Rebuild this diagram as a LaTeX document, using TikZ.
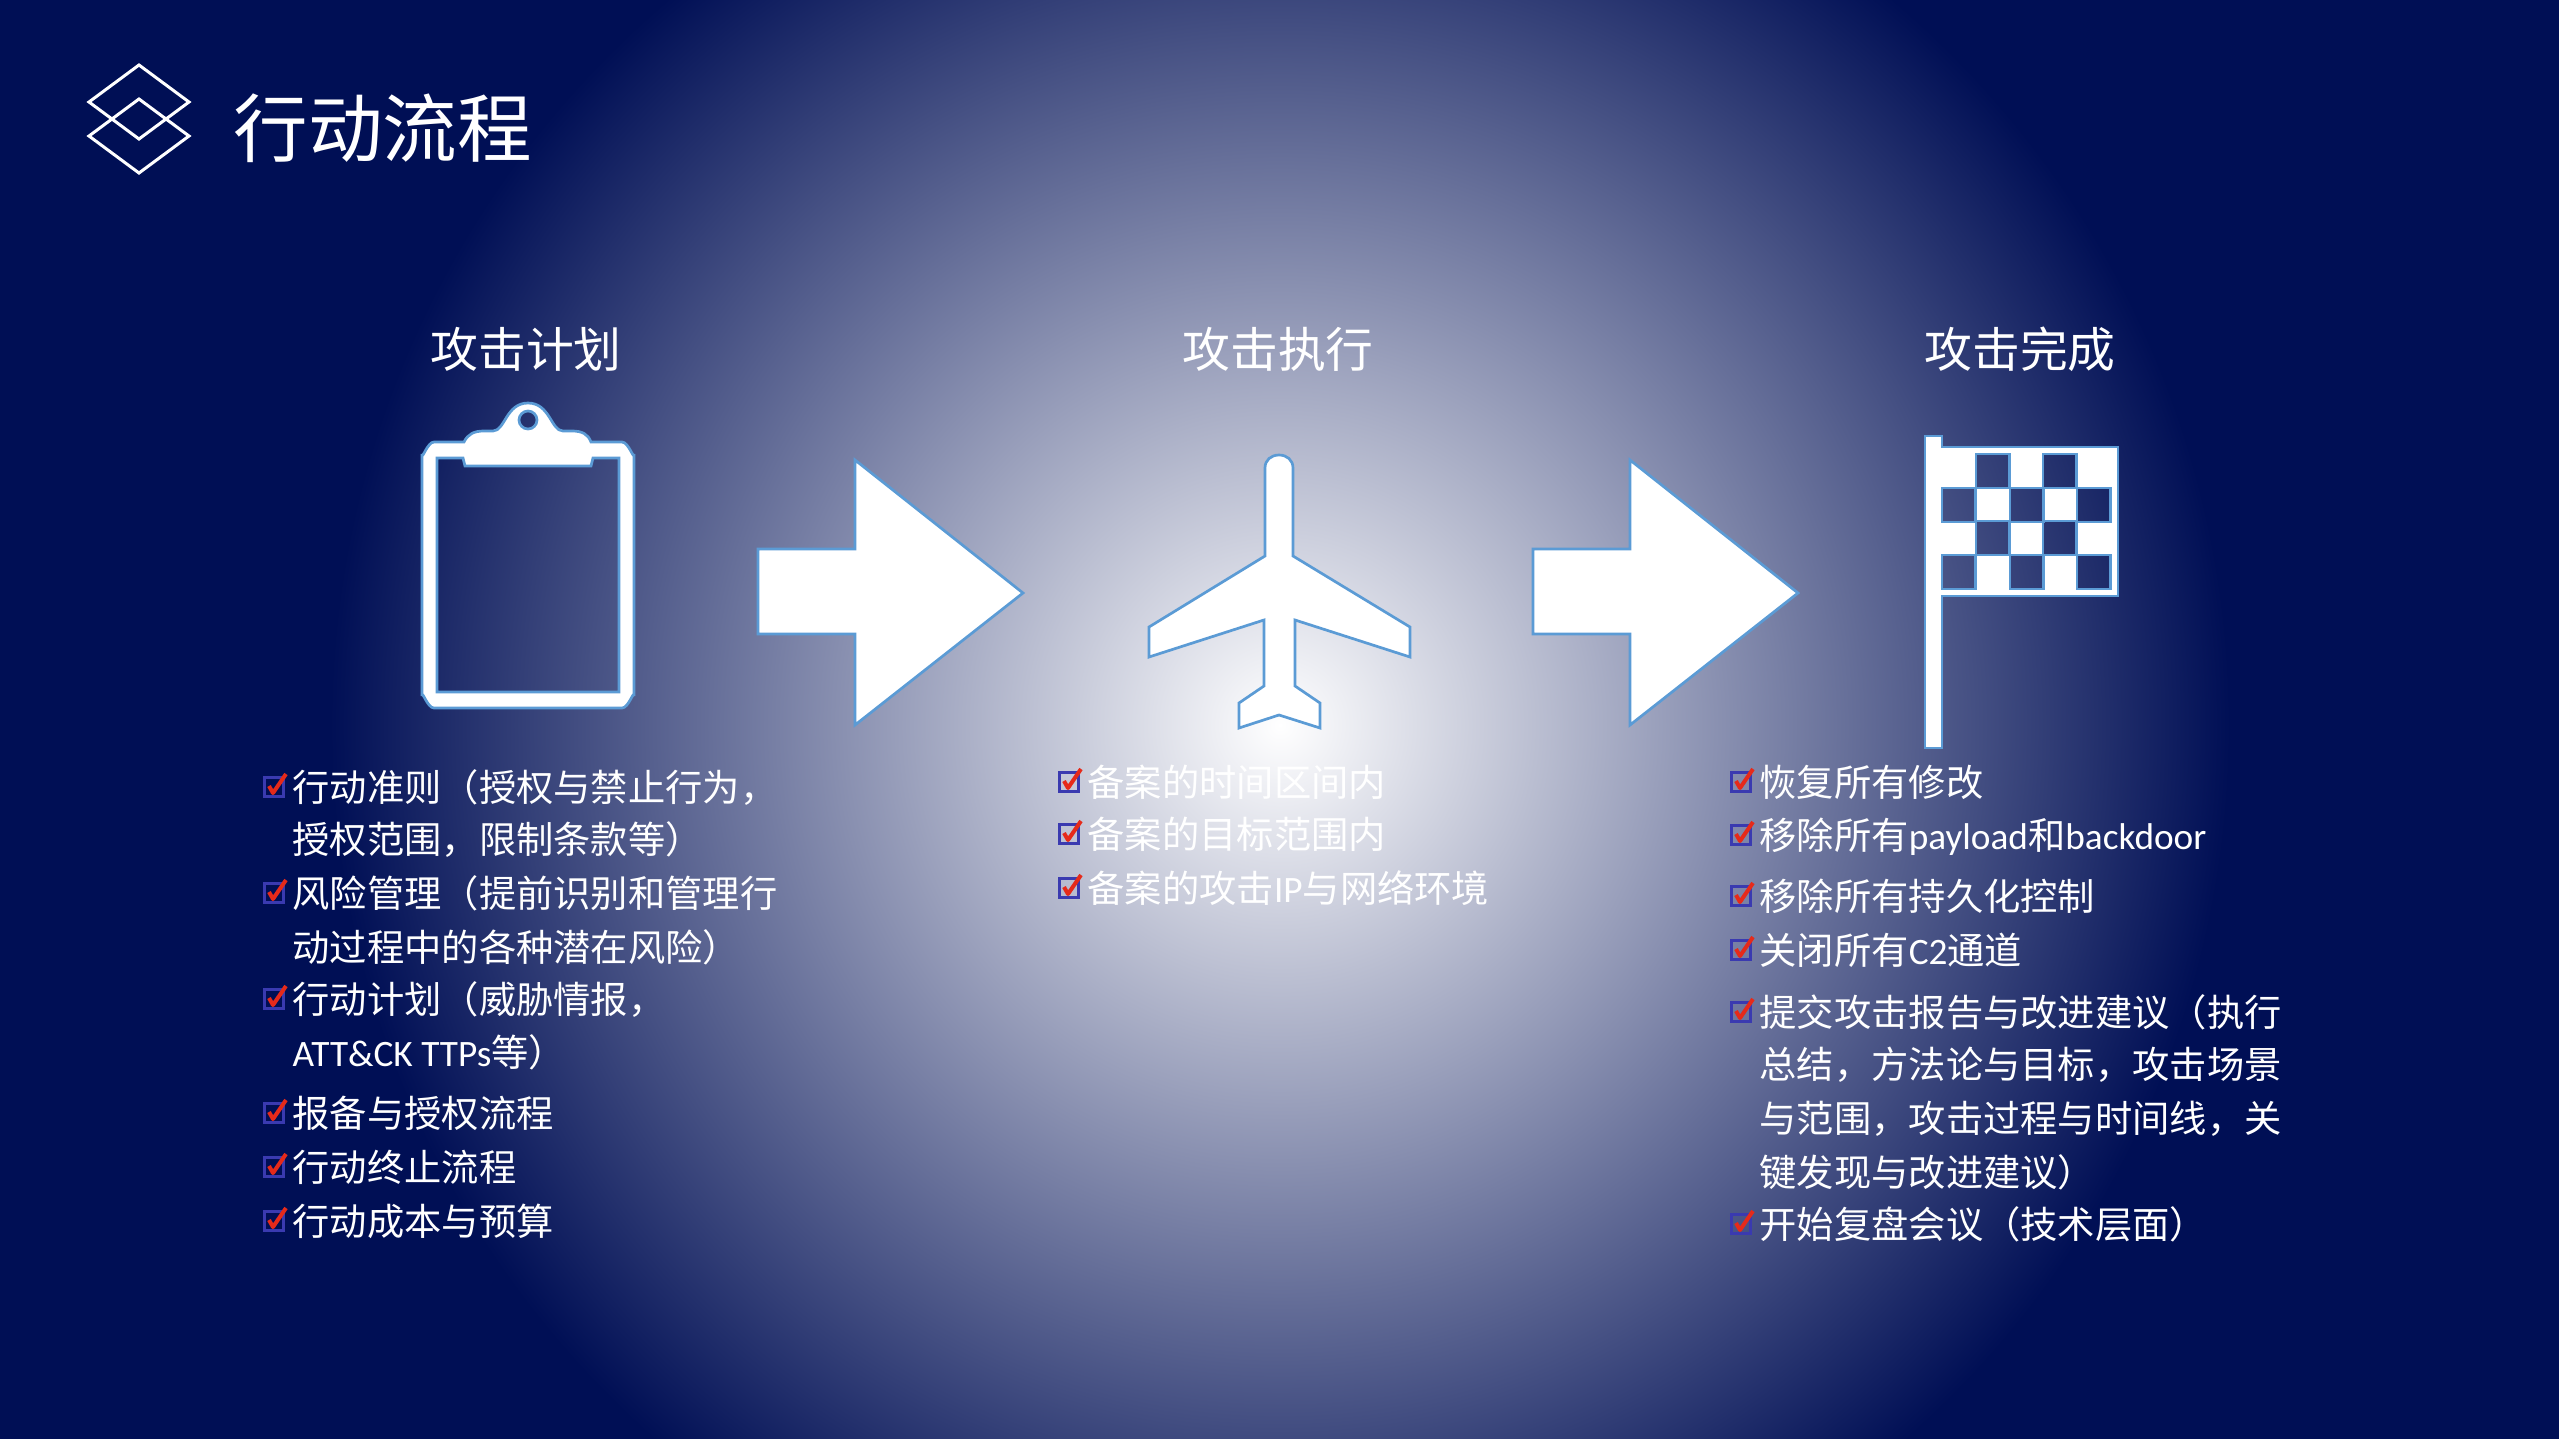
\documentclass[tikz,border=0pt]{standalone}
\usepackage{fontspec}
\setmainfont{Noto Sans CJK SC}
\newfontfamily\latfont{Carlito}
\newcommand{\lat}[1]{{\latfont #1}}
\definecolor{navybg}{HTML}{000F55}
\definecolor{iconline}{HTML}{5B9BD5}
\definecolor{boxblue}{HTML}{3A3AB0}
\definecolor{tickred}{HTML}{E62A1A}
\pgfdeclareradialshading{glowbg}{\pgfpoint{0bp}{0bp}}{color(0bp)=(white); color(25bp)=(navybg); color(50bp)=(navybg)}
\tikzset{
  titletext/.style={text=white,inner sep=0pt,anchor=base west,font=\fontsize{21.2pt}{24pt}\selectfont},
  headtext/.style={text=white,inner sep=0pt,anchor=base,font=\fontsize{13.6pt}{16pt}\selectfont},
  linetext/.style={text=white,inner sep=0pt,anchor=base west,font=\fontsize{10.6pt}{13pt}\selectfont},
  iconshape/.style={fill=white,draw=iconline,line width=0.027cm,line join=miter,even odd rule},
  tickbox/.pic={
    \draw[boxblue,line width=0.03cm] (-28,-24) rectangle (-9,-5);
    \draw[tickred,line width=0.04cm,line join=round] (-23,-15) -- (-19,-8) -- (-6,-27);
  }
}
\begin{document}
\begin{tikzpicture}[x=0.01cm,y=-0.01cm]
  \useasboundingbox (0,0) rectangle (2559,1439);
  \fill[navybg] (0,0) rectangle (2559,1439);
  \begin{scope}
    \clip (0,0) rectangle (2559,1439);
    \shade[shading=glowbg] (1280,725) circle (950);
  \end{scope}
  % title
  \draw[white,line width=0.03cm] (139,65) -- (189,102) -- (139,139) -- (89,102) -- cycle;
  \draw[white,line width=0.03cm] (139,99) -- (189,136) -- (139,173) -- (89,136) -- cycle;
  \node[titletext] (maintitle) at (233,156) {行动流程};
  % heads
  \node[headtext] (planhead) at (526,367) {攻击计划};
  \node[headtext] (runhead) at (1278,367) {攻击执行};
  \node[headtext] (donehead) at (2020,367) {攻击完成};
  % clipboard
  \draw[iconshape] (434,442) -- (464,442) .. controls (468,434) and (474,431) .. (484,431)
    -- (493,431) .. controls (505,431) and (506,403) .. (528,403)
    .. controls (550,403) and (551,431) .. (563,431) -- (572,431)
    .. controls (582,431) and (588,434) .. (591,442) -- (622,442)
    to[out=0,in=-90] (634,454) -- (634,696) to[out=90,in=0] (622,708)
    -- (434,708) to[out=180,in=90] (422,696) -- (422,454) to[out=-90,in=180] cycle
    (437,458) -- (463,458) -- (465,466) -- (591,466) -- (593,458) -- (619,458)
    -- (619,692) -- (437,692) -- cycle
    (528,420) circle (9);
  % arrows
  \foreach \dx in {0,775}
    \draw[iconshape,shift={(\dx,0)}] (758,549) -- (855,549) -- (855,460) -- (1023,593)
      -- (855,725) -- (855,634) -- (758,634) -- cycle;
  % plane
  \draw[iconshape] (1265,468) .. controls (1265,460) and (1271,455) .. (1279,455)
    .. controls (1287,455) and (1293,460) .. (1293,468) -- (1293,556) -- (1410,627)
    -- (1410,657) -- (1295,620) -- (1295,686) -- (1320,703) -- (1320,728) -- (1279,715)
    -- (1239,728) -- (1239,703) -- (1264,686) -- (1264,620) -- (1149,657) -- (1149,627)
    -- (1265,556) -- cycle;
  % flag
  \draw[iconshape] (1925,436) -- (1942,436) -- (1942,447) -- (2118,447) -- (2118,596)
    -- (1942,596) -- (1942,748) -- (1925,748) -- cycle
    foreach \cx/\cy in {1976/454,2043/454,1942/488,2010/488,2077/488,1976/521,2043/521,1942/555,2010/555,2077/555}
    {(\cx,\cy) rectangle ++(33.5,34)};
  % left list
  \foreach \ty/\txt/\chk [count=\i] in {
      787/行动准则（授权与禁止行为，/1,
      839/授权范围，限制条款等）/0,
      893/风险管理（提前识别和管理行/1,
      947/动过程中的各种潜在风险）/0,
      999/行动计划（威胁情报，/1,
      1052/\lat{ATT\&CK TTPs}等）/0,
      1113/报备与授权流程/1,
      1167/行动终止流程/1,
      1221/行动成本与预算/1} {
    \node[linetext] (plan\i) at (292,\ty+14) {\txt};
    \ifnum\chk=1 \pic at (plan\i.base west) {tickbox}; \fi
  }
  % middle list
  \foreach \ty/\txt [count=\i] in {
      782/备案的时间区间内,
      834/备案的目标范围内,
      888/备案的攻击\lat{IP}与网络环境} {
    \node[linetext] (run\i) at (1087,\ty+14) {\txt};
    \pic at (run\i.base west) {tickbox};
  }
  % right list
  \foreach \ty/\txt/\chk [count=\i] in {
      782/恢复所有修改/1,
      835/移除所有\lat{payload}和\lat{backdoor}/1,
      896/移除所有持久化控制/1,
      950/关闭所有\lat{C2}通道/1,
      1012/提交攻击报告与改进建议（执行/1,
      1064/总结，方法论与目标，攻击场景/0,
      1118/与范围，攻击过程与时间线，关/0,
      1172/键发现与改进建议）/0,
      1224/开始复盘会议（技术层面）/1} {
    \node[linetext] (done\i) at (1759,\ty+14) {\txt};
    \ifnum\chk=1 \pic at (done\i.base west) {tickbox}; \fi
  }
\end{tikzpicture}
\end{document}
